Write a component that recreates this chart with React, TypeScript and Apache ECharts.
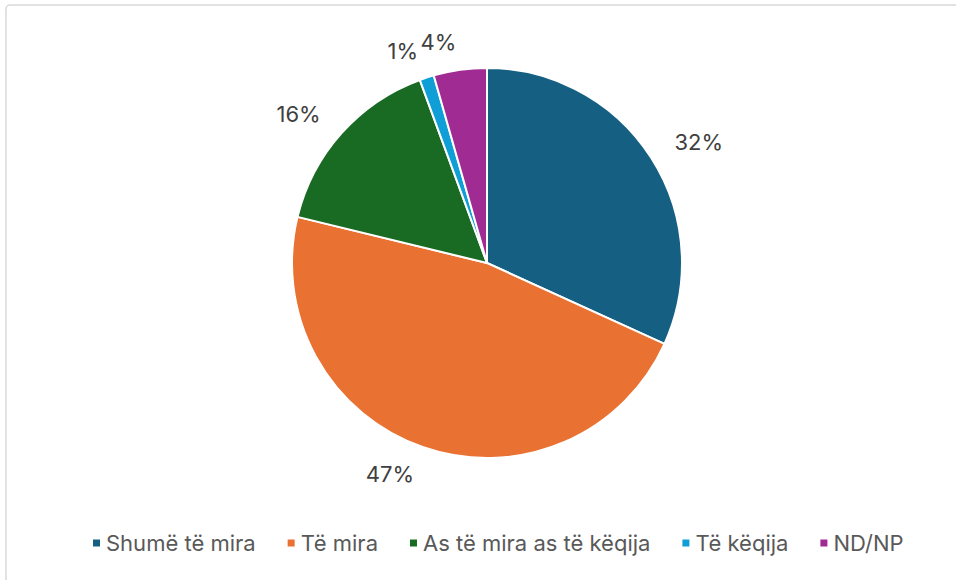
import React, { useEffect, useRef } from "react";
import * as echarts from "echarts";

const categories = ["Shumë të mira", "Të mira", "As të mira as të këqija", "Të këqija", "ND/NP"];
const values = [31.8, 47.0, 15.6, 1.2, 4.4];
const colors = ["#156082", "#E97132", "#196B24", "#0F9ED5", "#A02B93"];

export default function App() {
  const ref = useRef<HTMLDivElement>(null);
  useEffect(() => {
    document.body.style.margin = "0";
    const chart = echarts.init(ref.current!, null, { renderer: "svg" });
    chart.setOption({
      animation: false,
      backgroundColor: "#ffffff",
      graphic: [
        {
          type: "rect",
          shape: { x: 6, y: 5, width: 1000, height: 700, r: 4 },
          style: { fill: "none", stroke: "#d9d9d9", lineWidth: 1.5 },
          silent: true,
        },
      ],
      legend: {
        top: 527,
        left: 86,
        icon: "rect",
        itemWidth: 9,
        itemHeight: 9,
        itemGap: 30,
        textStyle: { color: "#595959", fontSize: 22, fontFamily: "Inter" },
        data: categories,
      },
      series: [
        {
          type: "pie",
          center: [487, 263],
          radius: 195,
          startAngle: 90,
          clockwise: true,
          avoidLabelOverlap: false,
          itemStyle: { borderColor: "#ffffff", borderWidth: 2 },
          label: {
            show: true,
            position: "outside",
            formatter: (p: any) => Math.round(p.value) + "%",
            color: "#404040",
            fontSize: 22,
            fontFamily: "Inter",
            distanceToLabelLine: 0,
          },
          labelLine: { show: false, length: 28, length2: 0 },
          data: categories.map((c, i) => ({ name: c, value: values[i], itemStyle: { color: colors[i] } })),
        },
      ],
    });
    return () => chart.dispose();
  }, []);
  return <div ref={ref} style={{ width: 956, height: 580 }} />;
}
